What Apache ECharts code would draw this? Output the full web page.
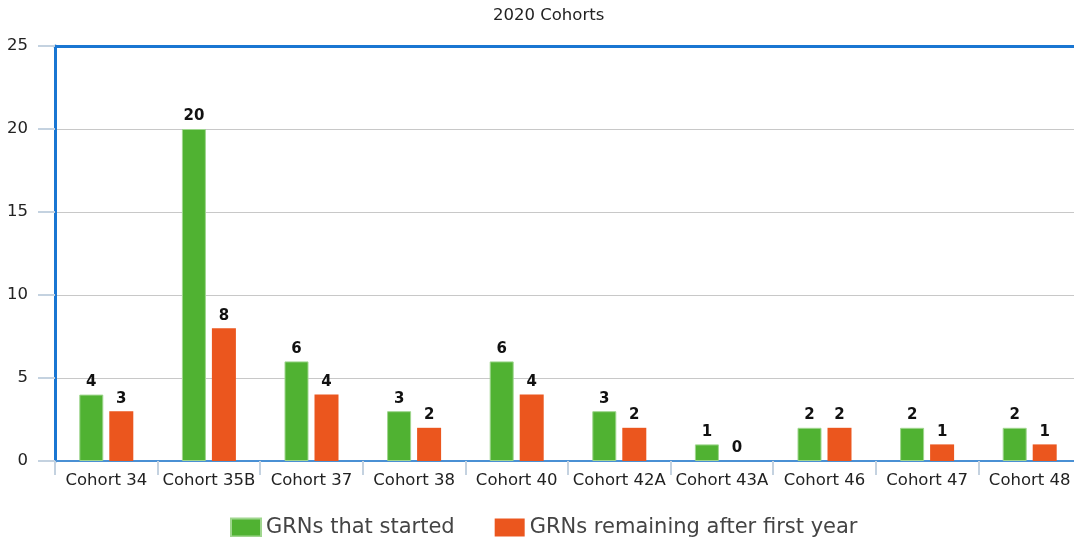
<!DOCTYPE html>
<html><head><meta charset="utf-8">
<script src="https://cdn.jsdelivr.net/npm/echarts@6/dist/echarts.min.js"></script>
<style>html,body{margin:0;padding:0;background:#fff}#c{width:1074px;height:537px}</style>
</head><body><div id="c"></div>
<script>
const categories = ['Cohort 34','Cohort 35B','Cohort 37','Cohort 38','Cohort 40','Cohort 42A','Cohort 43A','Cohort 46','Cohort 47','Cohort 48'];
const started = [4,20,6,3,6,3,1,2,2,2];
const remaining = [3,8,4,2,4,2,0,2,1,1];
const seriesNames = ['GRNs that started','GRNs remaining after first year'];
const yTicks = [0,5,10,15,20,25];

const font = 'DejaVu Sans, Verdana, sans-serif';
const chart = echarts.init(document.getElementById('c'), null, {renderer:'canvas'});
const lbl = {show:true, position:'top', distance:5, fontFamily:font, fontWeight:'bold', fontSize:15, color:'#111'};
chart.setOption({
  animation:false,
  title:{text:'2020 Cohorts', left:488, top:2, textStyle:{fontFamily:font, fontWeight:'normal', fontSize:16.5, color:'#222'}},
  legend:{left:225, top:512, itemWidth:30, itemHeight:18, itemGap:40, icon:'rect',
    textStyle:{fontFamily:font, fontSize:21, color:'#444'}, data:seriesNames},
  grid:{left:55, top:46, bottom:76, right:-7, outerBoundsMode:'none', containLabel:false},
  xAxis:[{type:'category', data:categories,
    axisLine:{lineStyle:{color:'#4a90d4', width:2}},
    axisTick:{show:true, length:14, lineStyle:{color:'#c4d2e0', width:2}},
    axisLabel:{fontFamily:font, fontSize:16.5, color:'#222', margin:11, interval:0, hideOverlap:false}},
    {type:'category', position:'top', data:categories,
     axisLine:{show:true, lineStyle:{color:'#1976d2', width:3}},
     axisTick:{show:false}, axisLabel:{show:false}}],
  yAxis:{type:'value', min:yTicks[0], max:yTicks[yTicks.length-1], interval:5,
    axisLine:{show:true, lineStyle:{color:'#1976d2', width:3}},
    axisTick:{show:true, length:17, lineStyle:{color:'#c4d2e0', width:2}},
    splitLine:{lineStyle:{color:'#c8c8c8', width:1}},
    axisLabel:{fontFamily:font, fontSize:16.5, color:'#222', margin:27}},
  series:[
    {name:seriesNames[0], type:'bar', data:started, barWidth:24, barGap:'25%',
     itemStyle:{color:'#50b232', borderColor:'#9fd68e', borderWidth:1}, label:lbl},
    {name:seriesNames[1], type:'bar', data:remaining, barWidth:24,
     itemStyle:{color:'#eb561e', borderColor:'#f5a585', borderWidth:0}, label:lbl}
  ]
});
</script></body></html>
